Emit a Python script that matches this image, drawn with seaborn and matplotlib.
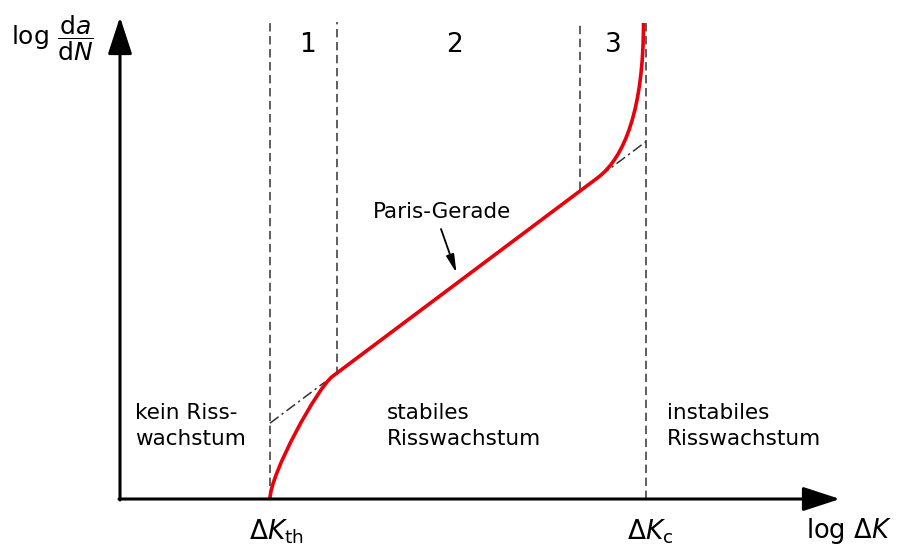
import numpy as np
import pandas as pd
import matplotlib
matplotlib.use("Agg")
import matplotlib.pyplot as plt
from matplotlib.path import Path
from matplotlib.patches import PathPatch
import seaborn as sns

sns.set_theme(style="white")
plt.rcParams["font.family"] = ["DejaVu Sans"]
plt.rcParams["mathtext.fontset"] = "dejavusans"
plt.rcParams["text.color"] = "black"

# Schematic coordinates: x ~ log ΔK, y ~ log da/dN (origin at the axes corner)
dk_th = 3.0          # threshold ΔK_th
dk_12 = 4.34         # boundary regime 1 / 2
dk_23 = 9.2          # boundary regime 2 / 3
dk_c = 10.52         # critical ΔK_c
region_top = 9.55
boundary_bottoms = [0.0, 2.48, 6.18, 0.0]

# Paris line (regime 2) given by two points
paris_x = [4.34, 9.2]
paris_y = [2.52, 6.16]

# Where the red curve leaves / joins the Paris line, and its bend handles
tangent_x = [4.25, 9.55]
bend1_handles = [0.5, 0.3]      # vertical start handle, handle along the line
bend3_handles = [0.55, 1.7]     # handle along the line, vertical end handle
curve_end = (10.47, 9.52)

# Dash-dot extensions of the Paris line
ext_start = [dk_th, 9.6]
ext_end = [4.1, dk_c]

region_labels = ["1", "2", "3"]
region_label_x = [3.74, 6.7, 9.86]
regime_texts = ["kein Riss-\nwachstum", "stabiles\nRisswachstum", "instabiles\nRisswachstum"]
regime_text_x = [0.3, 5.34, 10.94]

red = "#e8000b"
grey = "#333333"


def paris(x):
    slope = (paris_y[1] - paris_y[0]) / (paris_x[1] - paris_x[0])
    return paris_y[0] + slope * (np.asarray(x) - paris_x[0])


slope = (paris_y[1] - paris_y[0]) / (paris_x[1] - paris_x[0])
unit = np.array([1.0, slope])

fig = plt.figure(figsize=(8.98, 5.47), dpi=100)
ax = fig.add_axes([0, 0, 1, 1])
ax.set_xlim(-2.4, 15.56)
ax.set_ylim(-0.96, 9.98)
ax.axis("off")

# Regime boundaries
ax.vlines([dk_th, dk_12, dk_23, dk_c], boundary_bottoms, region_top,
          colors=grey, lw=1.1, linestyles=[(0, (5.5, 3.0))])

# Dash-dot extensions of the Paris line
ext = pd.DataFrame({
    "x": [ext_start[0], ext_end[0], ext_start[1], ext_end[1]],
    "seg": [0, 0, 1, 1],
})
ext["y"] = paris(ext["x"])
sns.lineplot(data=ext, x="x", y="y", units="seg", estimator=None, ax=ax,
             color=grey, lw=1.1, linestyle=(0, (7, 2.5, 1.5, 2.5)))

# Crack growth curve: threshold bend, Paris line, critical bend
a3 = np.array([tangent_x[0], float(paris(tangent_x[0]))])
b0 = np.array([tangent_x[1], float(paris(tangent_x[1]))])
verts = [
    (dk_th, 0.0),
    (dk_th, bend1_handles[0]),
    tuple(a3 - bend1_handles[1] * unit),
    tuple(a3),
    tuple(b0),
    tuple(b0 + bend3_handles[0] * unit),
    (curve_end[0], curve_end[1] - bend3_handles[1]),
    curve_end,
]
codes = [Path.MOVETO, Path.CURVE4, Path.CURVE4, Path.CURVE4,
         Path.LINETO, Path.CURVE4, Path.CURVE4, Path.CURVE4]
ax.add_patch(PathPatch(Path(verts, codes), facecolor="none", edgecolor=red,
                       lw=2.6, capstyle="butt", joinstyle="round", zorder=4))

# Coordinate axes with arrow heads
arrow = dict(arrowstyle="-|>,head_length=1.9,head_width=0.62", lw=2.2,
             color="black", shrinkA=0, shrinkB=0)
ax.annotate("", xy=(14.4, 0), xytext=(-0.02, 0), arrowprops=arrow, zorder=5)
ax.annotate("", xy=(0, 9.64), xytext=(0, -0.02), arrowprops=arrow, zorder=5)

# Labels
ax.text(-2.18, 9.22, r"$\log\,\dfrac{\mathrm{d}a}{\mathrm{d}N}$", fontsize=18,
        ha="left", va="center")
ax.text(13.72, -0.79, r"log $\Delta K$", fontsize=18.5, ha="left", va="baseline")
ax.text(3.12, -0.8, r"$\Delta K_\mathrm{th}$", fontsize=19, ha="center", va="baseline")
ax.text(10.6, -0.8, r"$\Delta K_\mathrm{c}$", fontsize=19, ha="center", va="baseline")

for lab, x in zip(region_labels, region_label_x):
    ax.text(x, 8.94, lab, fontsize=19, ha="center", va="baseline")

for txt, x in zip(regime_texts, regime_text_x):
    ax.text(x, 1.08, txt, fontsize=15.5, ha="left", va="baseline", linespacing=1.4)

ax.annotate("", xy=(6.73, 4.52), xytext=(6.42, 5.4),
            arrowprops=dict(arrowstyle="-|>,head_length=0.9,head_width=0.2",
                            lw=1.3, color="black", shrinkA=0, shrinkB=0))
ax.text(5.06, 5.62, "Paris-Gerade", fontsize=15.5, ha="left", va="baseline")

fig.savefig("out.png", dpi=100)
